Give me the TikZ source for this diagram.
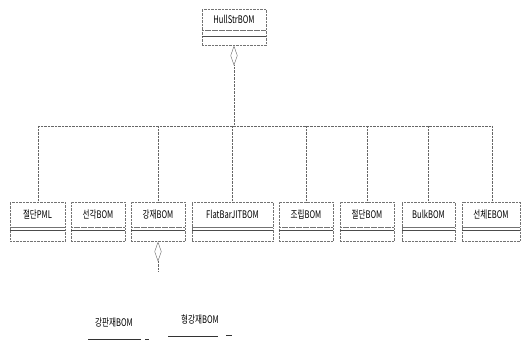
\documentclass[tikz,border=0pt]{standalone}
\usepackage{fontspec}
\setmainfont[FakeStretch=0.72]{Noto Sans CJK KR}
\usetikzlibrary{positioning,arrows.meta}

\begin{document}
\begin{tikzpicture}[x=1pt, y=-1pt, font=\fontsize{10.5}{12}\selectfont,
        cls/.style={rectangle, draw=black!55, densely dotted, inner sep=0pt, minimum height=25pt, text centered},
        body/.style={rectangle, draw=black!55, densely dotted, inner sep=0pt, minimum height=14pt},
        line/.style={draw=black!60, densely dotted},
        agg/.style={draw=black!60, densely dotted, -{Diamond[open, width=7pt, length=20pt]}},
        uline/.style={draw=black!80, semithick}]
        \useasboundingbox (0,0) rectangle (523,352);

        % top class
        \node [cls, minimum width=64pt, minimum height=21pt] (hull) at (234,19.5) {HullStrBOM};
        \node [body, minimum width=64pt, minimum height=15pt, below=0pt of hull] (hullb) {};
        \draw [black!70] ([yshift=-6pt]hullb.north west) -- ([yshift=-6pt]hullb.north east);

        % bottom row of classes
        \node [cls, minimum width=55pt] (jdpml) at (37.5,214.5) {절단PML};
        \node [cls, minimum width=54pt] (sgbom) at (98,214.5) {선각BOM};
        \node [cls, minimum width=54pt] (gjbom) at (158,214.5) {강재BOM};
        \node [cls, minimum width=81pt] (fbbom) at (232.5,214.5) {FlatBarJITBOM};
        \node [cls, minimum width=54pt] (jrbom) at (306,214.5) {조립BOM};
        \node [cls, minimum width=54pt] (jdbom) at (367,214.5) {절단BOM};
        \node [cls, minimum width=53pt] (bkbom) at (428.5,214.5) {BulkBOM};
        \node [cls, minimum width=58pt] (scbom) at (491,214.5) {선체EBOM};

        \node [body, minimum width=55pt, below=0pt of jdpml] (jdpmlb) {};
        \node [body, minimum width=54pt, below=0pt of sgbom] (sgbomb) {};
        \node [body, minimum width=54pt, below=0pt of gjbom] (gjbomb) {};
        \node [body, minimum width=81pt, below=0pt of fbbom] (fbbomb) {};
        \node [body, minimum width=54pt, below=0pt of jrbom] (jrbomb) {};
        \node [body, minimum width=54pt, below=0pt of jdbom] (jdbomb) {};
        \node [body, minimum width=53pt, below=0pt of bkbom] (bkbomb) {};
        \node [body, minimum width=58pt, below=0pt of scbom] (scbomb) {};

        \foreach \n in {jdpmlb, sgbomb, gjbomb, fbbomb, jrbomb, jdbomb, bkbomb, scbomb}
            \draw [black!70] ([yshift=-3pt]\n.north west) -- ([yshift=-3pt]\n.north east);

        % bus
        \coordinate (busL) at (38,126);
        \coordinate (busR) at (492,126);
        \path [line] (busL) -- (busR);
        \path [agg] (busL -| hull) -- (hullb.south);

        \path [line] (busL) -- (busL |- jdpml.north);
        \path [line] (busL -| gjbom) -- (gjbom.north);
        \path [line] (busL -| fbbom) -- (fbbom.north);
        \path [line] (busL -| jrbom) -- (jrbom.north);
        \path [line] (busL -| jdbom) -- (jdbom.north);
        \path [line] (busL -| bkbom) -- (bkbom.north);
        \path [line] (busR) -- (busR |- scbom.north);

        % below 강재BOM
        \coordinate (gjEnd) at (158,271);
        \path [agg] (gjEnd) -- (gjbomb.south);

        % bottom labels
        \node (gpj) at (114,323) {강판재BOM};
        \node (hgj) at (200,320) {형강재BOM};
        \path [uline] (88,339) -- (141,339);
        \path [uline] (145,339) -- (149,339);
        \path [uline] (168,336) -- (218,336);
        \path [uline] (226,335) -- (232,335);
    \end{tikzpicture}
\end{document}
